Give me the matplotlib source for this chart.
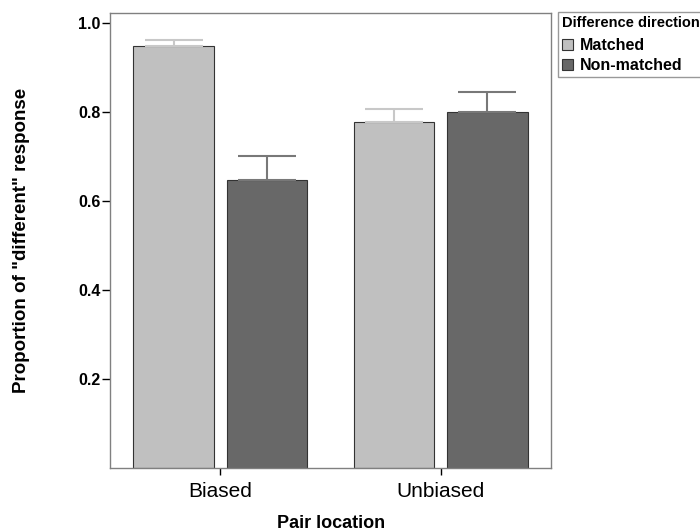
import numpy as np
import matplotlib
matplotlib.use("Agg")
import matplotlib.pyplot as plt
from matplotlib.patches import Patch

plt.rcParams['font.family'] = ['Liberation Sans', 'DejaVu Sans']

locations = ["Biased", "Unbiased"]
series = ["Matched", "Non-matched"]
means = {"Matched": [0.948, 0.776], "Non-matched": [0.647, 0.799]}
upper = {"Matched": [0.961, 0.805], "Non-matched": [0.701, 0.844]}

bar_colors = {"Matched": "#c0c0c0", "Non-matched": "#686868"}
err_colors = {"Matched": "#c8c8c8", "Non-matched": "#787878"}
offsets = {"Matched": -0.212, "Non-matched": 0.212}
width = 0.363

fig = plt.figure(figsize=(7, 5.31), dpi=100)
ax = fig.add_axes([110 / 700, 1 - 468 / 531, 441 / 700, (468 - 13.3) / 531])

x = np.arange(len(locations))
for s in series:
    xs = x + offsets[s]
    ax.bar(xs, means[s], width=width, color=bar_colors[s], edgecolor="#333333",
           linewidth=0.8, zorder=2)
    m = np.array(means[s])
    u = np.array(upper[s])
    ax.errorbar(xs, m, yerr=[np.zeros_like(m), u - m], fmt="none",
                ecolor=err_colors[s], elinewidth=1.5, capsize=21, capthick=1.5,
                zorder=3)

ax.set_xlim(-0.5, 1.5)
ax.set_ylim(0, 1.021)
ax.set_yticks([0.2, 0.4, 0.6, 0.8, 1.0])
ax.set_yticklabels(["0.2", "0.4", "0.6", "0.8", "1.0"], fontweight="bold", fontsize=11.5)
ax.set_xticks(x)
ax.set_xticklabels(locations, fontsize=15)
ax.tick_params(axis="y", length=6, width=1, color="black", pad=1)
ax.tick_params(axis="x", length=5, width=1, color="black", pad=5)
for sp in ax.spines.values():
    sp.set_color("#808080")
    sp.set_linewidth(1)

fig.text(22 / 700, 1 - 240 / 531, 'Proportion of "different" response', rotation=90,
         ha="center", va="center", fontweight="bold", fontsize=13.5)
fig.text(331 / 700, 1 - 523 / 531, "Pair location", ha="center", va="center",
         fontweight="bold", fontsize=13)

handles = [Patch(facecolor=bar_colors[s], edgecolor="#333333", linewidth=0.8) for s in series]
leg = fig.legend(handles, series, loc="upper left", bbox_to_anchor=(558 / 700, 1 - 12 / 531),
                 title="Difference direction", frameon=True, fancybox=False,
                 prop={"weight": "bold", "size": 11.5}, handlelength=0.7, handleheight=0.7,
                 handletextpad=0.4, borderpad=0.25, labelspacing=0.28, borderaxespad=0)
leg.get_title().set_fontweight("bold")
leg.get_title().set_fontsize(10.5)
leg._legend_box.align = "left"
leg._legend_box.sep = 6
leg.get_frame().set_edgecolor("#808080")
leg.get_frame().set_linewidth(1)

fig.savefig("out.png", dpi=100)
